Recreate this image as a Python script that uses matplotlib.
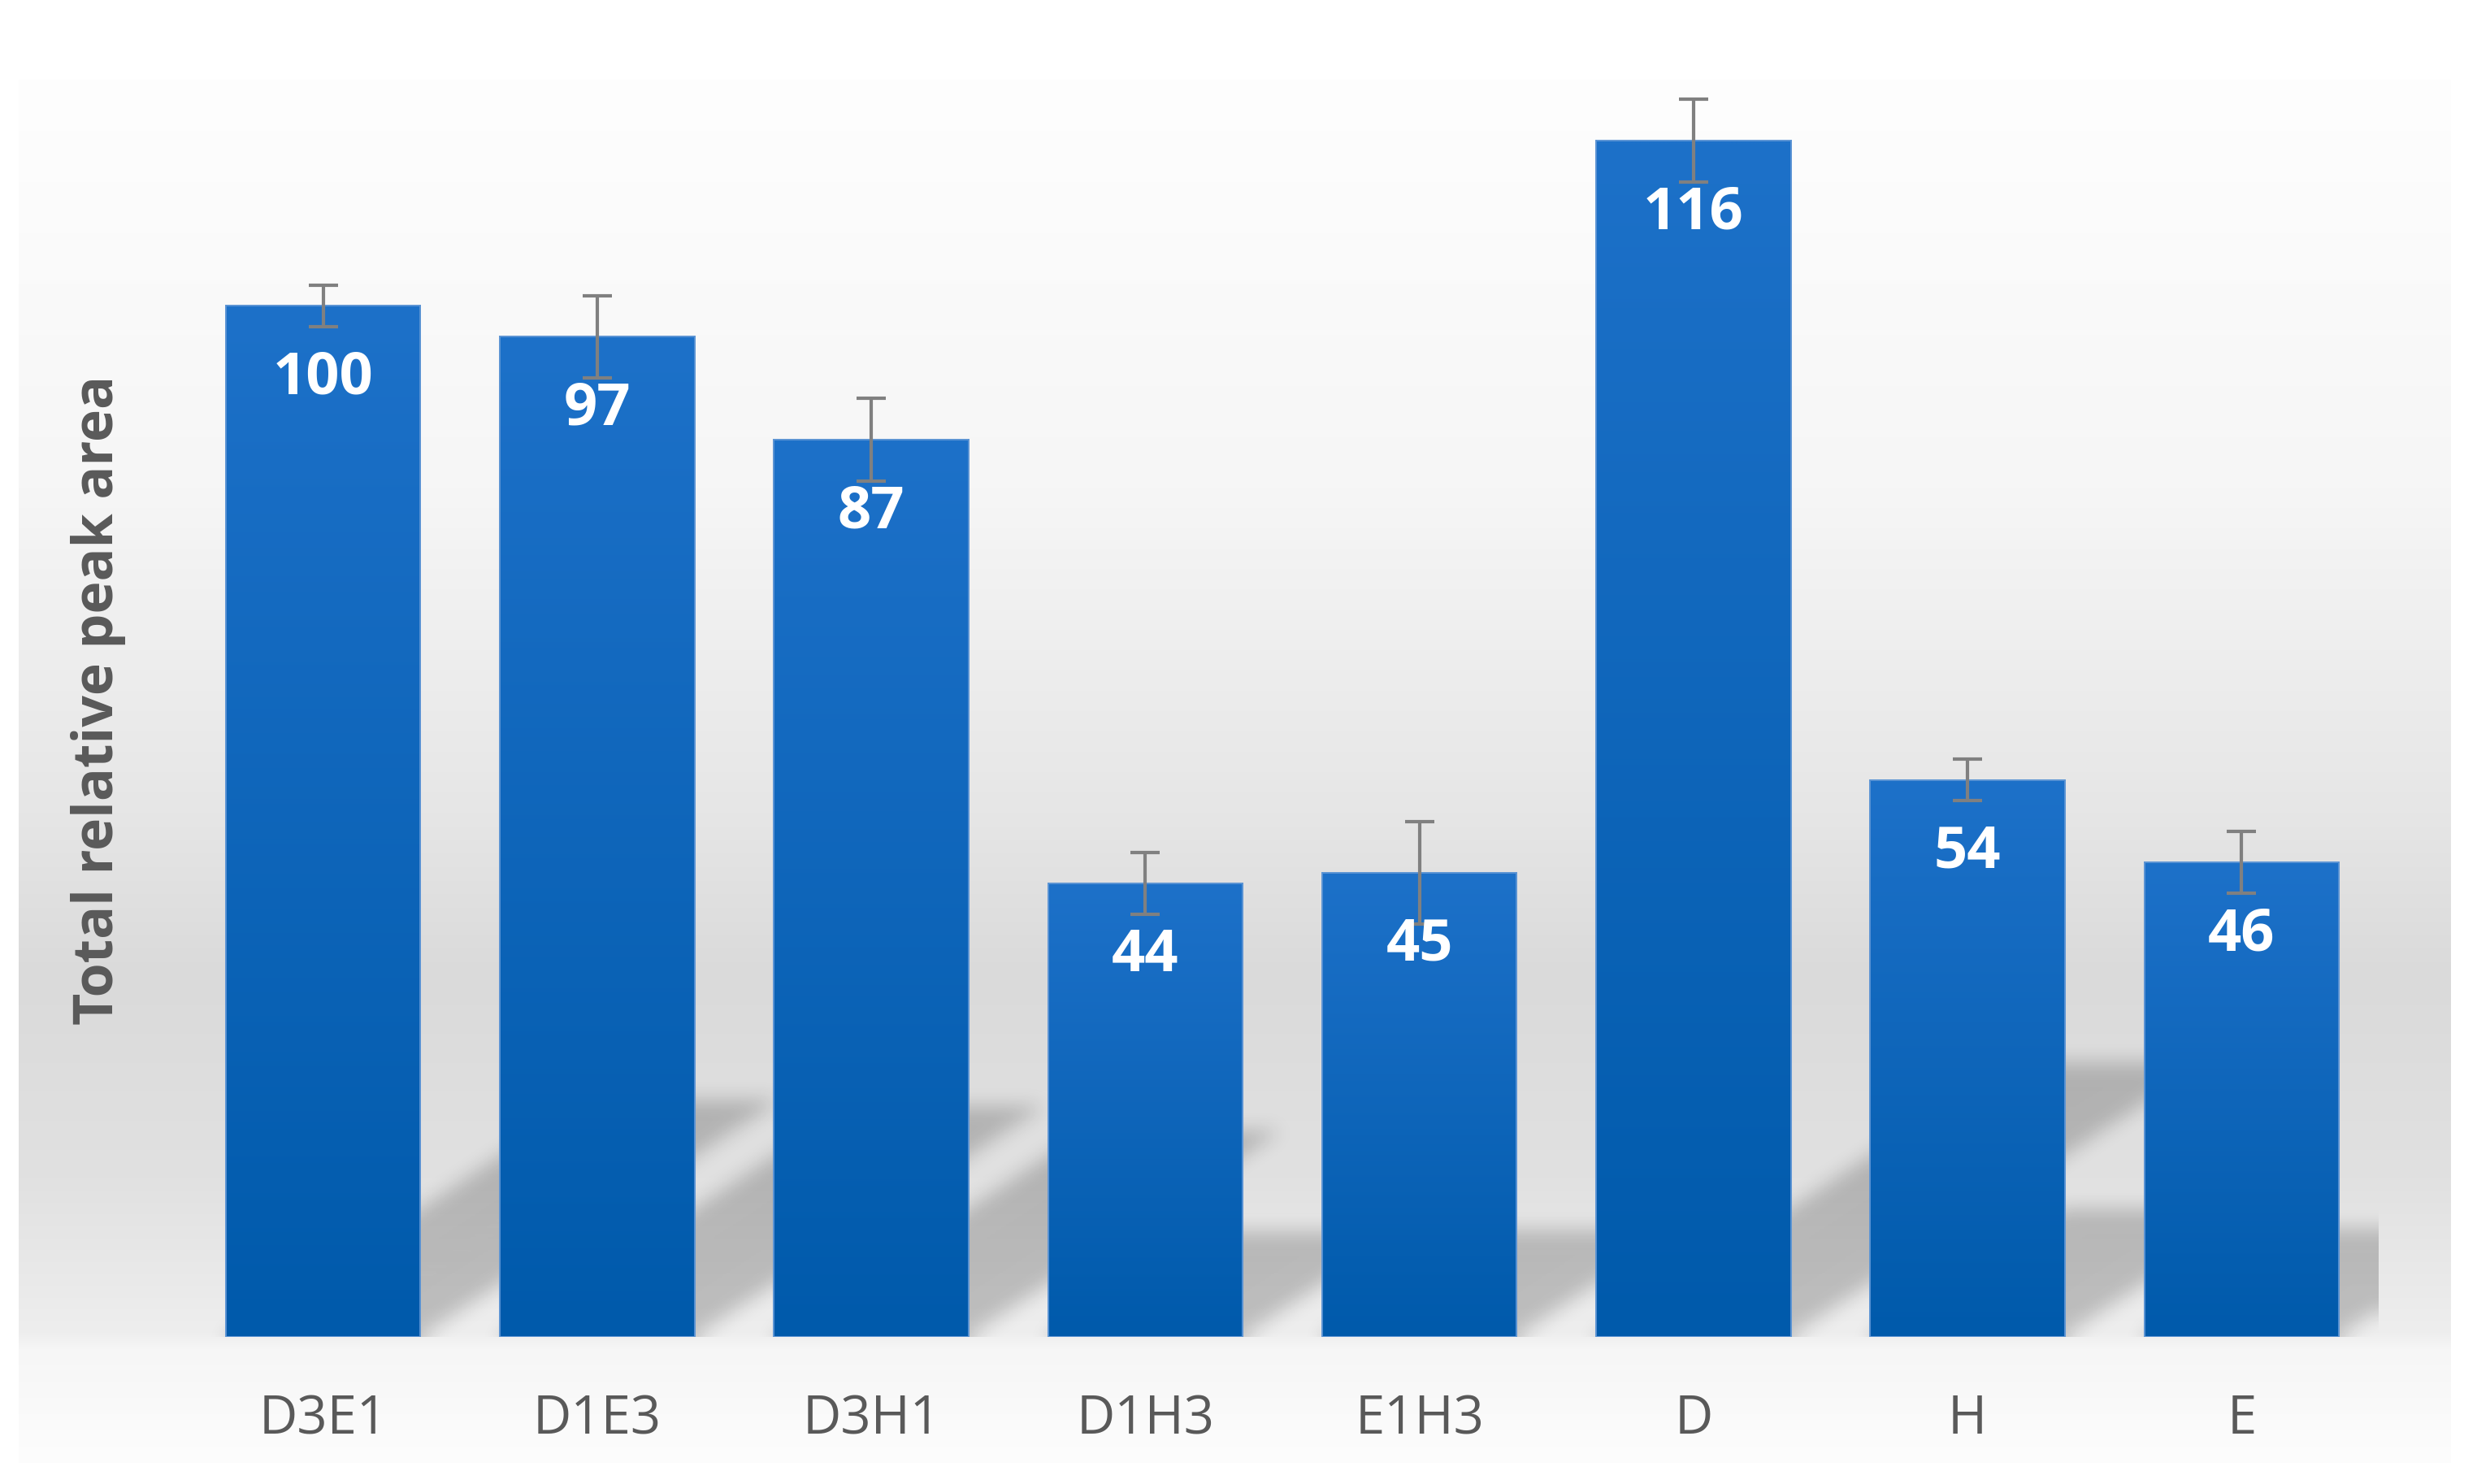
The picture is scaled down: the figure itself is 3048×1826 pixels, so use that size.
import numpy as np
import matplotlib.pyplot as plt

plt.rcParams['font.family'] = ['Open Sans', 'DejaVu Sans']

categories = ['D3E1', 'D1E3', 'D3H1', 'D1H3', 'E1H3', 'D', 'H', 'E']
values = [100, 97, 87, 44, 45, 116, 54, 46]
errors = [2, 4, 4, 3, 5, 4, 2, 3]

W, H, DPI = 3048, 1826, 200
fig = plt.figure(figsize=(W / DPI, H / DPI), dpi=DPI)
fig.patch.set_facecolor('white')

# chart area with vertical grey gradient
bg = fig.add_axes([0, 0, 1, 1], zorder=0)
bg.set_xlim(0, W)
bg.set_ylim(H, 0)
bg.axis('off')
ys = np.arange(98, 1800)
g = np.interp(ys, [98, 600, 1000, 1200, 1450, 1640, 1660, 1800],
              [254, 246, 230, 218, 225, 238, 246, 253]) / 255
bg.imshow(np.repeat(g[:, None, None], 3, axis=2), extent=(23, 3016, 1800, 98),
          aspect='auto', interpolation='bilinear')

# plot area
x0, x1, ybase, ytop = 229, 2927, 1645, 59
ymax = 125
ax = fig.add_axes([x0 / W, (H - ybase) / H, (x1 - x0) / W, (ybase - ytop) / H], zorder=1)
ax.patch.set_alpha(0)
for s in ax.spines.values():
    s.set_visible(False)

x = np.arange(len(values))
bw = 0.71

# perspective shadows (sheared, shortened, blurred)
k = 0.23
px_x = (x1 - x0) / len(values)
px_y = (ybase - ytop) / ymax
shear = px_y / 0.66 / px_x
gx = np.linspace(-0.5, len(values) - 0.5, 1349)
gy = np.linspace(0, 40, 254)
X, Y = np.meshgrid(gx, gy)
mask = np.zeros_like(X)
for xi, v in zip(x, values):
    left = xi - bw / 2 + shear * Y
    mask[(Y <= k * v) & (X >= left) & (X <= left + bw)] = 1.0


def box_blur(a, r, axis):
    a = np.moveaxis(a, axis, 0)
    p = np.pad(a, ((r + 1, r), (0, 0)), mode='edge')
    c = np.cumsum(p, axis=0)
    out = (c[2 * r + 1:] - c[:-2 * r - 1]) / (2 * r + 1)
    return np.moveaxis(out, 0, axis)


for _ in range(3):
    mask = box_blur(mask, 5, 0)
    mask = box_blur(mask, 5, 1)
shadow = np.zeros(mask.shape + (4,))
shadow[..., 3] = 0.2 * mask
ax.imshow(shadow, extent=(-0.5, len(values) - 0.5, 0, 40), origin='lower',
          aspect='auto', interpolation='bilinear', zorder=1)

# bars with vertical gradient
bars = ax.bar(x, values, width=bw, color='#0a63b8', linewidth=0, zorder=2)
top_c = np.array([0x1d, 0x71, 0xc9]) / 255
bot_c = np.array([0x00, 0x5a, 0xab]) / 255
t = np.linspace(0, 1, 200)[:, None, None]
grad = bot_c * (1 - t) + top_c * t
for rect, xi, v in zip(bars, x, values):
    im = ax.imshow(grad, extent=(xi - bw / 2, xi + bw / 2, 0, v), origin='lower',
                   aspect='auto', interpolation='bilinear', zorder=2.1)
    im.set_clip_path(rect)
ax.bar(x, values, width=bw, fill=False, edgecolor='#5a93d4', linewidth=0.7, zorder=2.2)

ax.errorbar(x, values, yerr=errors, fmt='none', ecolor='#808080', elinewidth=1.5,
            capsize=6.5, capthick=1.5, zorder=5)

for xi, v in zip(x, values):
    ax.annotate(str(v), (xi, v), xytext=(0, -32), textcoords='offset points',
                ha='center', va='center', color='white', fontsize=26,
                fontweight='bold', zorder=6)

ax.set_xlim(-0.5, len(values) - 0.5)
ax.set_ylim(0, ymax)
ax.set_yticks([])
ax.set_xticks(x, categories)
ax.tick_params(axis='x', length=0, pad=25, labelsize=23.5, labelcolor='#595959')

fig.text(121 / W, 1 - 861 / H, 'Total relative peak area', rotation=90,
         ha='center', va='center', fontsize=24.5, fontweight='bold', color='#595959')

fig.savefig('out.png', dpi=DPI)
